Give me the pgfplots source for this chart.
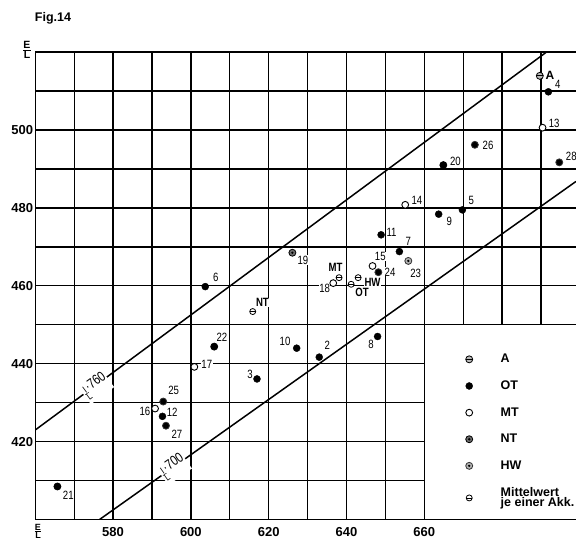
\documentclass[border=0pt]{standalone}
\usepackage{pgfplots}
\pgfplotsset{compat=1.18}
\usepackage{fontspec}
\setmainfont{Liberation Sans}
\newfontfamily\narrow[FakeStretch=0.8]{Liberation Sans}

\pgfdeclareplotmark{dotc}{%
  \pgfpathcircle{\pgfpointorigin}{\pgfplotmarksize}%
  \pgfusepathqfillstroke
  \pgfsetfillcolor{black}%
  \pgfpathcircle{\pgfpointorigin}{0.38\pgfplotmarksize}%
  \pgfusepathqfill
}
\pgfdeclareplotmark{ominus}{%
  \pgfpathcircle{\pgfpointorigin}{\pgfplotmarksize}%
  \pgfusepathqfillstroke
  \pgfpathmoveto{\pgfpoint{-\pgfplotmarksize}{0pt}}%
  \pgfpathlineto{\pgfpoint{\pgfplotmarksize}{0pt}}%
  \pgfusepathqstroke
}

\newcommand{\EL}{{\renewcommand\arraystretch{0.85}\begin{tabular}{@{}c@{}}E\\[-2pt]\hline\noalign{\vskip1pt}L\end{tabular}}}
\newcommand{\IL}{\raisebox{-0.3em}{\fontsize{10}{10}\selectfont\renewcommand\arraystretch{0.8}\begin{tabular}{@{}c@{}}I\\[-2pt]\hline\noalign{\vskip0.5pt}L\end{tabular}}}

\tikzset{
  lbl/.style={font=\narrow\fontsize{12}{12}\selectfont, fill=white, inner sep=0.4pt},
  mlbl/.style={font=\narrow\bfseries\fontsize{12}{12}\selectfont, fill=white, inner sep=0.4pt},
}

\begin{document}
\begin{tikzpicture}
\begin{axis}[
  scale only axis, width=540.75pt, height=467.5pt,
  xmin=560, xmax=699, ymin=400, ymax=520,
  enlargelimits=false,
  axis lines*=left,
  axis line style={line width=1.4pt, black},
  xtick={560,570,...,690}, ytick={400,410,...,520},
  xticklabels={,,580,,600,,620,,640,,660,,,},
  yticklabels={,,420,,440,,460,,480,,500,,},
  major tick length=0pt,
  grid=major, grid style={black, line width=1.3pt},
  tick label style={font=\bfseries\fontsize{13}{14}\selectfont},
  xticklabel style={yshift=-4pt},
  yticklabel style={inner sep=2pt},
  legend cell align=left,
  legend style={at={(axis cs:670.6,443)}, anchor=north west, draw=none, fill=none,
    inner sep=0pt, row sep=12.5pt, cells={align=left},
    font=\bfseries\fontsize{12.5}{10.5}\selectfont,
    /tikz/every odd column/.append style={column sep=26pt}},
]
\coordinate (bbsw) at (rel axis cs:0,0);
\coordinate (bbnw) at (rel axis cs:0,1);
\coordinate (bbne) at (rel axis cs:1,1);

% reference lines
\addplot[forget plot, black, line width=1.5pt] coordinates {(560,423) (691.4,520)};
\addplot[forget plot, black, line width=1.5pt] coordinates {(576.5,400) (699,486.8)};

% legend box
\fill[white] (axis cs:660,400) rectangle (axis cs:699,450);
\draw[black, line width=1.3pt] (axis cs:660,400) -- (axis cs:660,450) -- (axis cs:699,450);
\draw[black, line width=1.4pt] (axis cs:660,400) -- (axis cs:699,400);

% line labels
\node[rotate=36.5, fill=white, inner sep=1pt, font=\narrow\fontsize{14}{14}\selectfont] at (axis cs:575.6,434.1) {\IL·760};
\node[rotate=35.4, fill=white, inner sep=1pt, font=\narrow\fontsize{14}{14}\selectfont] at (axis cs:595.6,413.3) {\IL·700};

% point labels
\node[mlbl, font=\bfseries\fontsize{12}{12}\selectfont] at (axis cs:692.3,514.1) {A};
\node[lbl] at (axis cs:694.3,511.7) {4};
\node[lbl] at (axis cs:693.4,501.8) {13};
\node[lbl] at (axis cs:676.4,496.0) {26};
\node[lbl] at (axis cs:697.8,493.3) {28};
\node[lbl] at (axis cs:668.0,491.9) {20};
\node[lbl] at (axis cs:658.1,482.0) {14};
\node[lbl] at (axis cs:672.1,481.8) {5};
\node[lbl] at (axis cs:666.4,476.6) {9};
\node[lbl] at (axis cs:651.6,473.7) {11};
\node[lbl] at (axis cs:655.9,471.3) {7};
\node[lbl] at (axis cs:657.8,463.2) {23};
\node[lbl] at (axis cs:648.7,467.5) {15};
\node[lbl] at (axis cs:651.2,463.6) {24};
\node[mlbl] at (axis cs:646.7,460.9) {HW};
\node[mlbl] at (axis cs:644.0,458.3) {OT};
\node[lbl] at (axis cs:646.3,445.0) {8};
\node[mlbl] at (axis cs:637.2,464.7) {MT};
\node[lbl] at (axis cs:634.4,459.4) {18};
\node[lbl] at (axis cs:628.8,466.6) {19};
\node[lbl] at (axis cs:606.4,462.3) {6};
\node[mlbl] at (axis cs:618.4,455.7) {NT};
\node[lbl] at (axis cs:608.0,446.9) {22};
\node[lbl] at (axis cs:604.1,439.8) {17};
\node[lbl] at (axis cs:624.2,445.8) {10};
\node[lbl] at (axis cs:635.1,444.7) {2};
\node[lbl] at (axis cs:615.2,437.2) {3};
\node[lbl] at (axis cs:595.6,433.1) {25};
\node[lbl] at (axis cs:588.2,427.7) {16};
\node[lbl] at (axis cs:595.2,427.6) {12};
\node[lbl] at (axis cs:596.4,421.9) {27};
\node[lbl] at (axis cs:568.5,406.3) {21};

% A
\addplot[only marks, mark=ominus, mark size=3.5pt, mark options={fill=gray!55, draw=black, line width=0.8pt}]
  coordinates {(689.7,513.9)};
\addlegendentry{A}
% OT
\addplot[only marks, mark=*, mark size=3.5pt, mark options={fill=black, draw=black}]
  coordinates {(633.0,441.7) (617.0,436.1) (691.9,509.8) (669.8,479.5) (603.7,459.8)
               (653.6,468.8) (648.0,447.0) (663.7,478.4) (627.2,444.0) (648.9,473.1) (592.7,426.5)};
\addlegendentry{OT}
% MT
\addplot[only marks, mark=*, mark size=3.4pt, mark options={fill=white, draw=black, line width=0.9pt}]
  coordinates {(690.4,500.6) (655.1,480.8) (646.7,465.1) (590.8,428.5) (600.9,439.2) (636.6,460.7)};
\addlegendentry{MT}
% NT
\addplot[only marks, mark=dotc, mark size=3.5pt, mark options={fill=gray!85!black, draw=black, line width=0.8pt}]
  coordinates {(626.1,468.5) (664.9,491.0) (565.7,408.5) (606.0,444.4)};
\addlegendentry{NT}
% HW
\addplot[only marks, mark=dotc, mark size=3.5pt, mark options={fill=gray!60, draw=black!80, line width=0.8pt}]
  coordinates {(655.9,466.4) (648.2,463.5) (592.9,430.3) (673.0,496.2) (593.6,424.1) (694.7,491.7)};
\addlegendentry{HW}
% Mittelwert
\addplot[only marks, mark=ominus, mark size=3pt, mark options={fill=white, draw=black, line width=0.8pt}]
  coordinates {(615.9,453.4) (638.1,462.1) (643.0,462.1) (641.2,460.4)};
\addlegendentry{Mittelwert\\je einer Akk.}
\end{axis}

\node[font=\bfseries\fontsize{12.5}{12}\selectfont] at ([shift={(17.75pt,34.1pt)}]bbnw) {Fig.14};
\node[font=\bfseries\fontsize{10.5}{11}\selectfont, inner sep=0pt] at ([shift={(-8.25pt,0.6pt)}]bbnw) {\EL};
\node[font=\bfseries\fontsize{9}{10}\selectfont, inner sep=0pt] at ([shift={(2.75pt,-13.2pt)}]bbsw) {\EL};

\pgfresetboundingbox
\path[use as bounding box] ([shift={(-35.25pt,-23.4pt)}]bbsw) rectangle ([shift={(0pt,52.1pt)}]bbne);
\end{tikzpicture}
\end{document}
